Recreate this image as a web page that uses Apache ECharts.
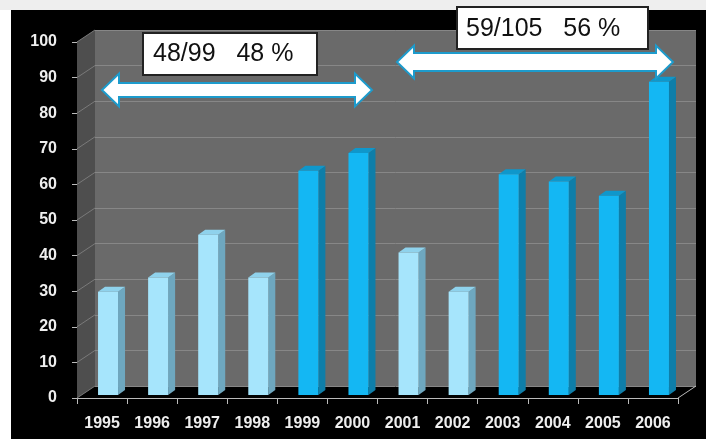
<!DOCTYPE html>
<html>
<head>
<meta charset="utf-8">
<script src="https://cdn.jsdelivr.net/npm/echarts@6/dist/echarts.min.js"></script>
<style>
  html, body { margin: 0; padding: 0; background: #ffffff; }
  #topband { position: absolute; left: 0; top: 0; width: 706px; height: 10px; background: #eeeeee; }
  #bg { position: absolute; left: 11px; top: 10px; width: 695px; height: 429px; background: #000000; }
  #chart { position: absolute; left: 0; top: 0; width: 706px; height: 439px; }
</style>
</head>
<body>
<div id="topband"></div>
<div id="bg"></div>
<div id="chart"></div>
<script>
// ---- data ----
const categories = ['1995','1996','1997','1998','1999','2000','2001','2002','2003','2004','2005','2006'];
const values = [29, 33, 45, 33, 63, 68, 40, 29, 62, 60, 56, 88];
const highlighted = [0, 0, 0, 0, 1, 1, 0, 0, 1, 1, 1, 1];
const yTicks = [0, 10, 20, 30, 40, 50, 60, 70, 80, 90, 100];
const annotationLeft = '48/99   48 %';
const annotationRight = '59/105   56 %';

// ---- style ----
const DX = 18, DY = 12;          // depth of the 3D box
const BAR_W = 20, BAR_SIDE = 7, BAR_RISE = 5, BAR_SHIFT = -4, BAR_LIFT = 3;
const palette = {
  light: { front: '#a6e5fc', side: '#6ea7bf', top: '#8fd2ec' },
  dark:  { front: '#14b7f3', side: '#0e7ea9', top: '#0f97cb' }
};

const chart = echarts.init(document.getElementById('chart'), null, { renderer: 'canvas' });

function renderWalls(params, api) {
  const cs = params.coordSys;
  const x = cs.x, y = cs.y, w = cs.width, h = cs.height;
  const children = [];
  children.push({
    type: 'polygon',
    shape: { points: [[x, y], [x + DX, y - DY], [x + DX, y + h - DY], [x, y + h]] },
    style: { fill: '#4e4e4e' }
  });
  yTicks.forEach(function (t) {
    const yy = api.coord([0, t])[1];
    children.push({
      type: 'line',
      shape: { x1: x, y1: yy, x2: x + DX, y2: yy - DY },
      style: { stroke: '#7a7a7a', lineWidth: 1 }
    });
  });
  children.push({
    type: 'line',
    shape: { x1: x + w, y1: y + h, x2: x + w + DX, y2: y + h - DY },
    style: { stroke: '#bbbbbb', lineWidth: 1 }
  });
  return { type: 'group', children: children };
}

function renderBar(params, api) {
  const i = api.value(0), v = api.value(1), hi = api.value(2);
  const base = api.coord([i, 0]);
  const top = api.coord([i, v]);
  const c = hi ? palette.dark : palette.light;
  const x = base[0] + BAR_SHIFT;
  const yb = base[1] - BAR_LIFT;
  const yt = top[1] - BAR_LIFT;
  return {
    type: 'group',
    children: [
      { type: 'polygon',
        shape: { points: [[x + BAR_W, yt], [x + BAR_W + BAR_SIDE, yt - BAR_RISE], [x + BAR_W + BAR_SIDE, yb - BAR_RISE], [x + BAR_W, yb]] },
        style: { fill: c.side } },
      { type: 'polygon',
        shape: { points: [[x, yt], [x + BAR_SIDE, yt - BAR_RISE], [x + BAR_W + BAR_SIDE, yt - BAR_RISE], [x + BAR_W, yt]] },
        style: { fill: c.top } },
      { type: 'rect',
        shape: { x: x, y: yt, width: BAR_W, height: yb - yt },
        style: { fill: c.front } }
    ]
  };
}

function arrowPoints(x1, x2, y, sh, hh, hl) {
  return [[x1, y], [x1 + hl, y - hh], [x1 + hl, y - sh], [x2 - hl, y - sh], [x2 - hl, y - hh],
          [x2, y], [x2 - hl, y + hh], [x2 - hl, y + sh], [x1 + hl, y + sh], [x1 + hl, y + hh]];
}

const labelFont = { color: '#eeeeee', fontFamily: 'Liberation Sans, Arial, sans-serif', fontWeight: 'bold', fontSize: 16 };

const option = {
  animation: false,
  backgroundColor: 'transparent',
  grid: [
    { left: 77, right: 28, top: 42, bottom: 41, show: false },
    { left: 95, right: 10, top: 30, bottom: 53, show: true, backgroundColor: '#6a6a6a', borderWidth: 0 }
  ],
  xAxis: [
    { type: 'category', gridIndex: 0, data: categories,
      axisLine: { show: true, lineStyle: { color: '#bbbbbb', width: 1 } },
      axisTick: { show: true, alignWithLabel: false, length: 6, lineStyle: { color: '#bbbbbb' } },
      axisLabel: Object.assign({ margin: 18 }, labelFont),
      splitLine: { show: false } },
    { type: 'category', gridIndex: 1, data: categories, show: false }
  ],
  yAxis: [
    { type: 'value', gridIndex: 0, min: 0, max: 100, interval: 10,
      axisLine: { show: true, lineStyle: { color: '#bbbbbb', width: 1 } },
      axisTick: { show: true, length: 5, lineStyle: { color: '#bbbbbb' } },
      axisLabel: Object.assign({ margin: 20 }, labelFont),
      splitLine: { show: false } },
    { type: 'value', gridIndex: 1, min: 0, max: 100, interval: 10,
      axisLine: { show: false }, axisTick: { show: false }, axisLabel: { show: false },
      splitLine: { show: true, lineStyle: { color: '#878787', width: 1 } } }
  ],
  series: [
    { type: 'custom', xAxisIndex: 0, yAxisIndex: 0, z: 1, silent: true,
      renderItem: renderWalls, data: [[0, 0]], clip: false },
    { type: 'custom', xAxisIndex: 0, yAxisIndex: 0, z: 3,
      renderItem: renderBar, clip: false,
      encode: { x: 0, y: 1 },
      data: values.map(function (v, i) { return [i, v, highlighted[i]]; }) }
  ],
  graphic: [
    { type: 'polygon', z: 10,
      shape: { points: arrowPoints(102, 372, 90, 7, 16.5, 17) },
      style: { fill: '#ffffff', stroke: '#1d9bcc', lineWidth: 2 } },
    { type: 'polygon', z: 10,
      shape: { points: arrowPoints(397, 673, 62, 9, 16.5, 17) },
      style: { fill: '#ffffff', stroke: '#1d9bcc', lineWidth: 2 } },
    { type: 'rect', z: 10, shape: { x: 143, y: 33, width: 174, height: 42 },
      style: { fill: '#ffffff', stroke: '#222222', lineWidth: 2 } },
    { type: 'text', z: 11, x: 153, y: 54,
      style: { text: annotationLeft, fill: '#111111', font: '25px "Liberation Sans", Arial, sans-serif', textVerticalAlign: 'middle', verticalAlign: 'middle' } },
    { type: 'rect', z: 10, shape: { x: 457, y: 7, width: 191, height: 42 },
      style: { fill: '#ffffff', stroke: '#222222', lineWidth: 2 } },
    { type: 'text', z: 11, x: 466, y: 29,
      style: { text: annotationRight, fill: '#111111', font: '25px "Liberation Sans", Arial, sans-serif', textVerticalAlign: 'middle', verticalAlign: 'middle' } }
  ]
};

chart.setOption(option);
</script>
</body>
</html>
